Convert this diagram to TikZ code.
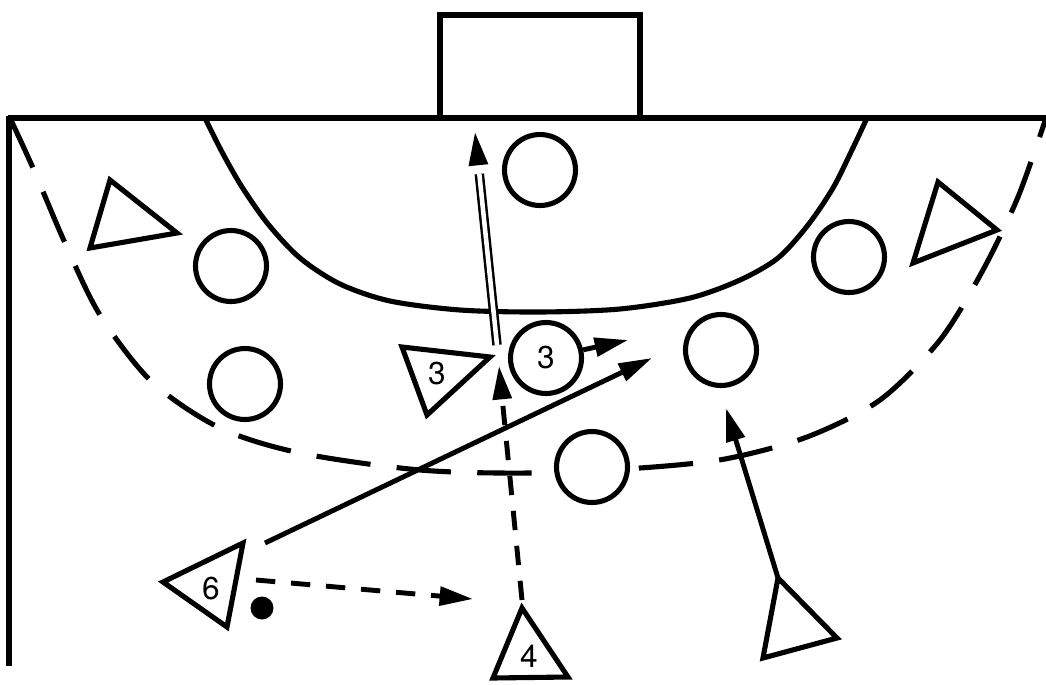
\documentclass[tikz,border=0pt]{standalone}
\usepackage{fontspec}
\setmainfont{TeX Gyre Heros}
\usetikzlibrary{arrows.meta,calc}
\begin{document}
\begin{tikzpicture}[x=0.02cm,y=-0.02cm,
  court/.style={line width=3.2pt},
  zone/.style={line width=2.9pt, dash pattern=on 31pt off 15pt},
  def/.style={circle, draw, line width=2.9pt, fill=white, minimum size=1.42cm, inner sep=0pt, font=\fontsize{18}{18}\selectfont},
  att/.style={draw, line width=2.9pt, line join=miter, fill=white},
  lbl/.style={inner sep=0pt, font=\fontsize{18}{18}\selectfont},
  tip/.style={-{Triangle[length=19pt,width=10.5pt]}},
  run/.style={line width=2.8pt, tip},
  druns/.style={line width=2.8pt, dash pattern=on 11pt off 9pt, tip},
]
\useasboundingbox (0,0) rectangle (1046,684);
\fill[white] (0,0) rectangle (1046,684);

% goal and court lines
\draw[court] (440,118) -- (440,15) -- (640,15) -- (640,118);
\draw[court] (8,118) -- (1046,118);
\draw[court] (9,116) -- (9,666);

% 6 m line
\draw[court, line width=2.9pt] plot[smooth] coordinates {(205,118) (222,152) (242,187) (268,224) (300,258) (340,284) (390,301) (460,310) (540,312) (620,309) (690,298) (740,280) (778,258) (808,225) (833,188) (851,152) (867,118)};

% 9 m line
\draw[zone] plot[smooth] coordinates {(10,118) (33,168) (65,243) (100,315) (152,382) (220,428) (300,453) (420,470) (530,473) (640,468) (725,459) (807,437) (880,400) (940,340) (983,270) (1018,197) (1046,118)};

% defenders
\node[def] (d1) at (540,170) {};
\node[def] (d2) at (231,266) {};
\node[def] (d3) at (245,384) {};
\node[def] (d4) at (546,358) {3};
\node[def] (d5) at (721,350) {};
\node[def] (d6) at (849,257) {};
\node[def] (d7) at (592,467) {};

% attackers
\coordinate (aL1) at (110,180); \coordinate (aL2) at (177,233); \coordinate (aL3) at (90,248);
\draw[att] (aL1) -- (aL2) -- (aL3) -- cycle;
\coordinate (aR1) at (938,182); \coordinate (aR2) at (997,230); \coordinate (aR3) at (913,263);
\draw[att] (aR1) -- (aR2) -- (aR3) -- cycle;
\coordinate (a31) at (402,347); \coordinate (a32) at (490,357); \coordinate (a33) at (427,415);
\draw[att] (a31) -- (a32) -- (a33) -- cycle;
\node[lbl] (l3) at (437,374) {3};
\coordinate (a61) at (163,582); \coordinate (a62) at (243,543); \coordinate (a63) at (227,627);
\draw[att] (a61) -- (a62) -- (a63) -- cycle;
\node[lbl] (l6) at (211,589) {6};
\coordinate (a41) at (522,608); \coordinate (a42) at (568,677); \coordinate (a43) at (493,678);
\draw[att] (a41) -- (a42) -- (a43) -- cycle;
\node[lbl] (l4) at (529,656) {4};
\coordinate (aB1) at (778,578); \coordinate (aB2) at (837,638); \coordinate (aB3) at (763,658);
\draw[att] (aB1) -- (aB2) -- (aB3) -- cycle;

% ball
\node[circle, fill=black, minimum size=0.46cm, inner sep=0pt] (ball) at (262,608) {};

% movements
\coordinate (s0) at (497,345);
\coordinate (s1) at (475,132);
\draw[line width=1.4pt, double, double distance=2.6pt, shorten >=24pt] (s0) -- (s1);
\draw[line width=2.8pt, tip] ($(s0)!0.85!(s1)$) -- (s1);

\coordinate (p4) at (522,600);
\coordinate (q4) at (499,366);
\draw[druns] (p4) -- (q4);

\coordinate (p6) at (256,580);
\coordinate (q6) at (473,599);
\draw[druns] (p6) -- (q6);

\coordinate (r6) at (265,543);
\coordinate (e6) at (652,358);
\draw[run] (r6) -- (e6);

\coordinate (e3) at (628,340);
\draw[run] (d4) -- (e3);

\coordinate (eB) at (726,408);
\draw[run] (aB1) -- (eB);
\end{tikzpicture}
\end{document}
